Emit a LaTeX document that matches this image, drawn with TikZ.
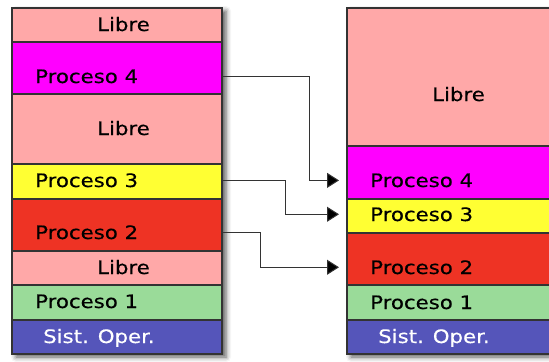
\documentclass[tikz,border=0pt]{standalone}
\usepackage{fontspec}
\newfontfamily\lab[FakeStretch=1.15,FakeBold=0.4]{DejaVu Sans}
\usetikzlibrary{shadows.blur,arrows.meta}
\definecolor{libre}{HTML}{FFA8A8}
\definecolor{pcuatro}{HTML}{FF00FF}
\definecolor{ptres}{HTML}{FFFF33}
\definecolor{pdos}{HTML}{EE3324}
\definecolor{puno}{HTML}{9ADB99}
\definecolor{sisop}{HTML}{5555BA}
\definecolor{edge}{HTML}{333333}
\begin{document}
\begin{tikzpicture}[x=1bp,y=-1bp,
  segbox/.style={draw=edge, line width=1.2bp, inner sep=0pt, outer sep=0pt, minimum width=210bp, anchor=north west},
  colbox/.style={fill=white, inner sep=0pt, outer sep=0pt, minimum width=210bp, anchor=north west,
    blur shadow={shadow xshift=4bp, shadow yshift=-3bp, shadow blur radius=5bp, shadow opacity=65}},
  lbl/.style={font=\lab\fontsize{18.5bp}{22bp}\selectfont, inner sep=0pt, anchor=base west},
  conn/.style={draw=edge, line width=1bp, -{Triangle[length=12bp,width=15bp,fill=black]}, shorten >=8bp}
]
\useasboundingbox (0,0) rectangle (549,361);
\newcommand{\memseg}[5]{\node[segbox, fill=#5, minimum height={(#4-#3)*1bp}] (#1) at (#2,#3) {};}
% column backgrounds with shadow
\node[colbox, minimum height=346bp] (colL) at (12,8) {};
\node[colbox, minimum height=346bp] (colR) at (347,8) {};
% left column
\memseg{lib1L}{12}{8}{42}{libre}
\memseg{p4L}{12}{42}{94}{pcuatro}
\memseg{lib2L}{12}{94}{164}{libre}
\memseg{p3L}{12}{164}{199}{ptres}
\memseg{p2L}{12}{199}{251}{pdos}
\memseg{lib3L}{12}{251}{285}{libre}
\memseg{p1L}{12}{285}{320}{puno}
\memseg{soL}{12}{320}{354}{sisop}
% right column
\memseg{libR}{347}{8}{146}{libre}
\memseg{p4R}{347}{146}{199}{pcuatro}
\memseg{p3R}{347}{199}{233}{ptres}
\memseg{p2R}{347}{233}{285}{pdos}
\memseg{p1R}{347}{285}{320}{puno}
\memseg{soR}{347}{320}{354}{sisop}
% left labels
\node[lbl] (tlib1L) at (97,31) {Libre};
\node[lbl] (tp4L) at (35,83) {Proceso 4};
\node[lbl] (tlib2L) at (97,135) {Libre};
\node[lbl] (tp3L) at (35,187) {Proceso 3};
\node[lbl] (tp2L) at (35,239) {Proceso 2};
\node[lbl] (tlib3L) at (97,274) {Libre};
\node[lbl] (tp1L) at (35,308) {Proceso 1};
\node[lbl, text=white] (tsoL) at (43,343) {Sist. Oper.};
% right labels
\node[lbl] (tlibR) at (432,101) {Libre};
\node[lbl] (tp4R) at (370,187) {Proceso 4};
\node[lbl] (tp3R) at (370,221) {Proceso 3};
\node[lbl] (tp2R) at (370,274) {Proceso 2};
\node[lbl] (tp1R) at (370,309) {Proceso 1};
\node[lbl, text=white] (tsoR) at (378,343) {Sist. Oper.};
% connectors
\draw[conn] (p4L.east |- tp4L) -- ++(87,0) |- (p4R.west |- tp4R);
\draw[conn] (p3L.east |- tp3L) -- ++(63,0) |- (p3R.west |- tp3R);
\draw[conn] (p2L.east |- tp2L) -- ++(38,0) |- (p2R.west |- tp2R);
\end{tikzpicture}
\end{document}
